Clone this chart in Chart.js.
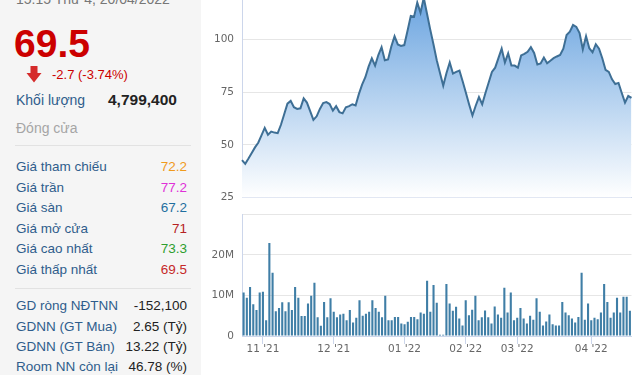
<!DOCTYPE html>
<html>
<head>
<meta charset="utf-8">
<script src="https://cdn.jsdelivr.net/npm/chart.js@4"></script>
<style>
  html, body { margin: 0; padding: 0; width: 640px; height: 375px; overflow: hidden; background: #fff; }
  body { position: relative; font-family: "Liberation Sans", Arial, sans-serif; }
  .panel { position: absolute; left: 0; top: 0; width: 201px; height: 375px; background: #f5f5f5; }
  .t { position: absolute; white-space: nowrap; line-height: 1; }
  .lbl { left: 16px; font-size: 13.5px; color: #2f5d8c; }
  .val { right: 14px; font-size: 13.5px; text-align: right; }
  .sep { position: absolute; left: 15px; width: 176px; height: 1px; background: #e2e2e2; }
  .box { position: absolute; left: 205px; width: 435px; }
</style>
</head>
<body>
<div class="panel">
  <div class="t" style="left:16px;top:-8px;font-size:14px;color:#777">15:15 Thứ 4, 20/04/2022</div>
  <div class="t" style="left:14px;top:24px;font-size:39px;font-weight:bold;color:#cc0000">69.5</div>
  <svg style="position:absolute;left:26px;top:66px" width="16" height="17" viewBox="0 0 16 17">
    <path d="M4.5 0 H11.5 V7 H15.5 L8 16.5 L0.5 7 H4.5 Z" fill="#d52b2b"/>
  </svg>
  <div class="t" style="left:52px;top:67.5px;font-size:13px;color:#cc0000">-2.7 (-3.74%)</div>
  <div class="t" style="left:16px;top:92.5px;font-size:14px;color:#2f5d8c">Khối lượng</div>
  <div class="t" style="left:108px;top:91.5px;font-size:15.5px;font-weight:bold;color:#222">4,799,400</div>
  <div class="t" style="left:16px;top:121px;font-size:14px;color:#a5a5a5">Đóng cửa</div>
  <div class="sep" style="top:145px"></div>

  <div class="t lbl" style="top:160px">Giá tham chiếu</div><div class="t val" style="top:160px;color:#f09a1c">72.2</div>
  <div class="t lbl" style="top:180.5px">Giá trần</div><div class="t val" style="top:180.5px;color:#e030d8">77.2</div>
  <div class="t lbl" style="top:201px">Giá sàn</div><div class="t val" style="top:201px;color:#1f6f9f">67.2</div>
  <div class="t lbl" style="top:221.5px">Giá mở cửa</div><div class="t val" style="top:221.5px;color:#b52222">71</div>
  <div class="t lbl" style="top:242px">Giá cao nhất</div><div class="t val" style="top:242px;color:#2e9e2e">73.3</div>
  <div class="t lbl" style="top:262.5px">Giá thấp nhất</div><div class="t val" style="top:262.5px;color:#c62828">69.5</div>
  <div class="sep" style="top:288px"></div>

  <div class="t lbl" style="top:299px">GD ròng NĐTNN</div><div class="t val" style="top:299px;color:#222">-152,100</div>
  <div class="t lbl" style="top:319.5px">GDNN (GT Mua)</div><div class="t val" style="top:319.5px;color:#222">2.65 (Tỷ)</div>
  <div class="t lbl" style="top:340px">GDNN (GT Bán)</div><div class="t val" style="top:340px;color:#222">13.22 (Tỷ)</div>
  <div class="t lbl" style="top:360px">Room NN còn lại</div><div class="t val" style="top:360px;color:#222">46.78 (%)</div>
</div>

<div class="box" style="top:-28px;height:240px"><canvas id="priceChart"></canvas></div>
<div class="box" style="top:200px;height:177px"><canvas id="volumeChart"></canvas></div>

<script>
// daily close price (thousand VND), 22/10/2021 -> 20/04/2022
const prices = [
  42.8, 41.0, 43.5, 46.2, 48.8, 51.0, 54.5, 58.0, 54.8, 56.3,
  55.8, 55.5, 59.5, 64.5, 69.5, 70.8, 67.8, 67.0, 67.3, 72.0,
  70.0, 66.0, 61.8, 63.5, 67.0, 69.8, 70.2, 69.3, 66.2, 68.3,
  65.5, 64.9, 67.8, 68.3, 69.2, 68.6, 74.0, 78.5, 82.0, 87.0,
  90.9, 87.5, 92.5, 96.2, 90.0, 90.4, 96.5, 101.4, 97.5, 96.8,
  97.2, 104.0, 111.0, 110.6, 117.3, 112.5, 119.5, 112.0, 104.5, 97.5,
  90.0, 84.0, 78.0, 84.0, 89.0, 83.7, 84.5, 85.1, 80.0, 74.5,
  69.0, 63.9, 68.5, 72.6, 69.2, 74.5, 79.5, 84.5, 86.5, 91.0,
  95.5, 89.0, 93.3, 87.5, 87.5, 86.5, 92.3, 93.0, 94.0, 96.2,
  93.5, 88.0, 88.5, 91.3, 88.6, 89.8, 91.0, 91.8, 92.5, 95.5,
  102.0, 103.5, 106.7, 105.8, 102.9, 95.2, 101.4, 95.7, 93.8, 97.6,
  95.5, 91.0, 85.5, 84.5, 81.0, 78.8, 79.3, 74.5, 70.0, 73.1,
  72.2
];

// daily volume (million shares)
const volumes = [
  10.7, 9.4, 12.1, 7.8, 6.4, 10.7, 10.9, 3.9, 22.9, 15.6,
  6.1, 6.9, 8.3, 6.1, 8.3, 6.4, 12.1, 9.4, 4.9, 4.9,
  8.0, 9.9, 13.1, 4.6, 2.5, 8.4, 4.6, 9.3, 6.0, 4.6,
  5.3, 5.5, 3.9, 6.4, 3.3, 4.5, 8.8, 5.0, 5.5, 6.0,
  8.8, 6.9, 6.0, 4.6, 9.9, 3.9, 3.9, 4.7, 4.7, 3.1,
  2.9, 3.5, 4.7, 4.7, 4.1, 5.8, 5.5, 13.6, 6.0, 12.6,
  8.2, 0.3, 0.3, 12.8, 8.0, 6.2, 7.2, 4.3, 2.6, 8.8,
  5.1, 6.5, 9.9, 3.9, 4.6, 6.3, 4.6, 3.1, 7.3, 5.3,
  4.5, 11.9, 5.8, 10.7, 3.9, 4.5, 6.9, 4.3, 3.1, 5.0,
  4.0, 9.3, 6.0, 2.6, 3.6, 5.3, 2.9, 2.6, 2.6, 8.4,
  5.8, 5.1, 4.3, 3.3, 4.7, 15.6, 4.0, 8.0, 3.9, 4.5,
  4.1, 5.8, 12.8, 8.4, 4.5, 5.8, 9.4, 5.8, 9.7, 9.7,
  6.2
];

const priceTicks = [25, 50, 75, 100, 125];
const volumeTicks = [0, 10, 20, 30];
// days with no session in the data
const holidays = ['2021-12-31', '2022-01-03', '2022-01-31', '2022-02-01', '2022-02-02', '2022-02-03', '2022-02-04', '2022-04-11'];
const firstDay = '2021-10-22';

function tradingDays(start, count) {
  const out = [];
  const d = new Date(start + 'T00:00:00Z');
  while (out.length < count) {
    const iso = d.toISOString().slice(0, 10);
    const wd = d.getUTCDay();
    if (wd !== 0 && wd !== 6 && !holidays.includes(iso)) out.push(iso);
    d.setUTCDate(d.getUTCDate() + 1);
  }
  return out;
}
const days = tradingDays(firstDay, prices.length);

function monthLabel(i) {
  if (i === 0) return null;
  const cur = days[i], prev = days[i - 1];
  if (cur.slice(5, 7) === prev.slice(5, 7)) return null;
  return cur.slice(5, 7) + " '" + cur.slice(2, 4);
}

const axisFont = { family: 'DejaVu Sans', size: 10.5 };
const axisColor = '#666';
const lineGrey = '#e6e6e6';
const axisGrey = '#ccd6eb';

new Chart(document.getElementById('priceChart'), {
  type: 'line',
  data: {
    labels: days,
    datasets: [{
      data: prices,
      borderColor: '#3e6f95',
      borderWidth: 2,
      pointRadius: 0,
      tension: 0,
      fill: 'start',
      backgroundColor: ctx => {
        const { chart } = ctx;
        const area = chart.chartArea;
        if (!area) return 'rgba(98,159,222,0.5)';
        const g = chart.ctx.createLinearGradient(0, area.top, 0, area.bottom);
        g.addColorStop(0, 'rgb(98,159,222)');
        g.addColorStop(1, 'rgb(255,255,255)');
        return g;
      }
    }]
  },
  options: {
    responsive: true,
    maintainAspectRatio: false,
    animation: false,
    layout: { padding: { top: 7, right: 8.5, bottom: 5, left: 0 } },
    plugins: { legend: { display: false }, tooltip: { enabled: false } },
    scales: {
      x: {
        ticks: { display: false },
        grid: { display: false },
        border: { color: axisGrey },
        afterFit: s => { s.height = 0; }
      },
      y: {
        min: priceTicks[0],
        max: priceTicks[priceTicks.length - 1],
        afterBuildTicks: s => { s.ticks = priceTicks.map(v => ({ value: v })); },
        ticks: { padding: 8, color: axisColor, font: axisFont },
        grid: { color: lineGrey, drawTicks: false },
        border: { color: axisGrey },
        afterFit: s => { s.width = 37; }
      }
    }
  }
});

new Chart(document.getElementById('volumeChart'), {
  type: 'bar',
  data: {
    labels: days,
    datasets: [{
      data: volumes,
      backgroundColor: '#3f7ea6',
      barPercentage: 0.65,
      categoryPercentage: 1
    }]
  },
  options: {
    responsive: true,
    maintainAspectRatio: false,
    animation: false,
    layout: { padding: { top: 9.5, right: 8.5, bottom: 5, left: 0 } },
    plugins: { legend: { display: false }, tooltip: { enabled: false } },
    scales: {
      x: {
        offset: true,
        ticks: {
          autoSkip: false,
          maxRotation: 0,
          padding: -1,
          color: axisColor,
          font: axisFont,
          callback: (v, i) => monthLabel(i)
        },
        grid: { offset: false, drawOnChartArea: false, drawTicks: true, tickLength: 8, color: axisGrey },
        border: { color: axisGrey },
        afterFit: s => { s.height = 36; }
      },
      y: {
        min: volumeTicks[0],
        max: volumeTicks[volumeTicks.length - 1],
        afterBuildTicks: s => { s.ticks = volumeTicks.map(v => ({ value: v })); },
        ticks: {
          padding: 8,
          color: axisColor,
          font: axisFont,
          callback: v => v === 0 ? '0' : (v === 30 ? '' : v + 'M')
        },
        grid: { color: lineGrey, drawTicks: false },
        border: { color: axisGrey },
        afterFit: s => { s.width = 37; }
      }
    }
  }
});
</script>
</body>
</html>
